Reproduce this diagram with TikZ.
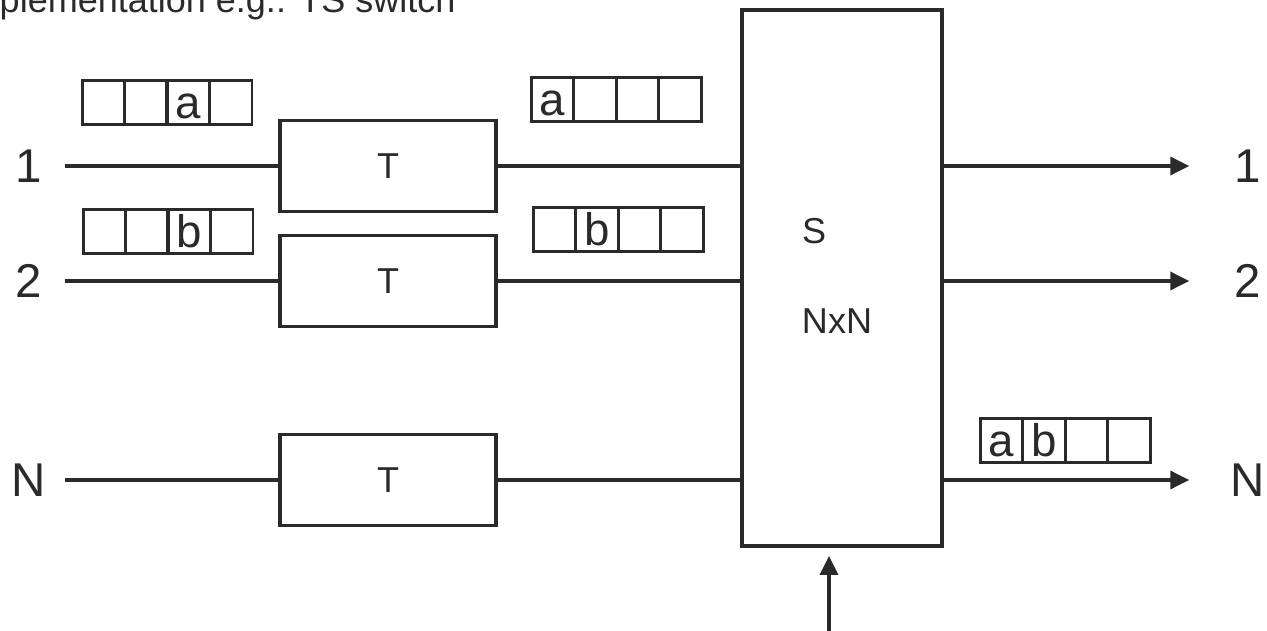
\documentclass[tikz,border=0pt]{standalone}
\usepackage{fontspec}
\setmainfont{Liberation Sans}
\usetikzlibrary{arrows.meta,positioning}
\definecolor{ink}{RGB}{42,42,42}

\begin{document}
\begin{tikzpicture}[x=0.02cm, y=-0.02cm, color=ink, line width=0.07cm,
    >={Triangle[length=0.38cm,width=0.36cm]},
    port/.style={font=\fontsize{27pt}{30pt}\selectfont, inner sep=0pt},
    blk/.style={draw, minimum width=4.32cm, minimum height=1.82cm, font=\fontsize{20.5pt}{24pt}\selectfont},
    tag/.style={font=\fontsize{20.5pt}{24pt}\selectfont, inner sep=0pt},
    slot/.style={draw, line width=0.06cm, minimum width=0.85cm, minimum height=0.9cm, inner sep=0pt},
    bit/.style={font=\fontsize{26pt}{30pt}\selectfont, inner sep=0pt}]
    \useasboundingbox (0,0) rectangle (1267,631);
    \node[tag, anchor=base west] (title) at (-2,13) {plementation e.g.: TS switch};

    % space stage
    \node[draw, line width=0.08cm, minimum width=4cm, minimum height=10.72cm] (s) at (842,278) {};
    \node[tag] (s-name) at (814,231) {S};
    \node[tag] (s-size) at (837,321) {NxN};

    % time stages, one per line
    \foreach \k/\y in {1/166,2/281,N/480} {
      \node[port, minimum width=1.36cm] (i\k) at (29,\y) {\k};
      \node[blk] (t\k) at (388,\y) {T};
      \node[port, minimum width=2.28cm] (o\k) at (1248,\y) {\k};
      \draw (i\k) -- (t\k);
      \draw (t\k) -- (t\k -| s.west);
      \draw[->] (s.east |- o\k) -- (o\k);
    }

    % control input
    \coordinate (ctrl) at (829,631);
    \draw[->, shorten >=0.16cm] (ctrl) -- (ctrl |- s.south);

    % frames of four time slots
    \foreach \nm/\px/\py in {fa/82/80,fb/83/209,ga/531/77,gb/533/207,gab/980/418}
      \foreach \i in {0,...,3}
        \node[slot] (\nm\i) at (\px+\i*42.5+21.25,\py+22.5) {};
    \foreach \cell/\ch in {fa2/a,fb2/b,ga0/a,gb1/b,gab0/a,gab1/b}
      \node[bit, anchor=base] (c-\cell) at ([yshift=0.15cm]\cell.south) {\ch};
\end{tikzpicture}
\end{document}
